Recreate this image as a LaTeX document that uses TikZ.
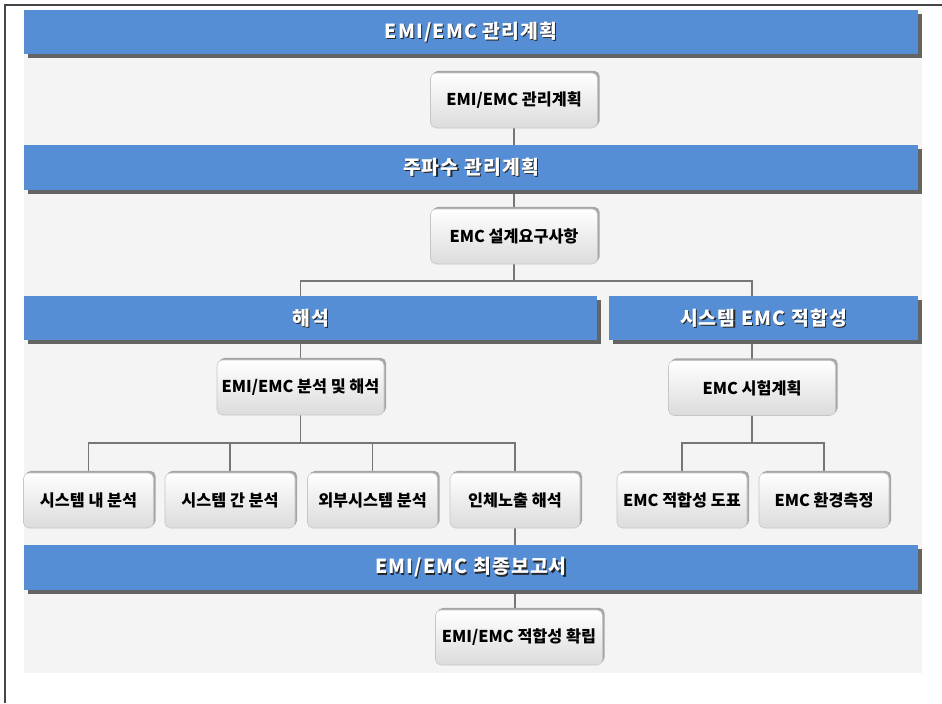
\documentclass[tikz,border=0pt]{standalone}
\usepackage{fontspec}
\setmainfont{Noto Sans CJK KR}
\newfontfamily\bannerfont[LetterSpace=6]{Noto Sans CJK KR}
\usetikzlibrary{shadows}
\definecolor{bannerblue}{RGB}{85,142,213}
\definecolor{bannershadow}{RGB}{100,100,100}
\definecolor{panelgray}{RGB}{244,244,244}
\definecolor{linegray}{RGB}{118,118,118}
\definecolor{framegray}{RGB}{70,70,70}
\pgfdeclarelayer{back}
\pgfdeclarelayer{mid}
\pgfsetlayers{back,mid,main}
\tikzset{
  bannertext/.style={font=\bannerfont\bfseries\fontsize{14.5}{17}\selectfont},
  banner/.style={fill=bannerblue, text=white, bannertext, inner sep=0pt,
    minimum height=33pt,
    drop shadow={shadow xshift=3pt, shadow yshift=-3pt, fill=bannershadow, opacity=1},
    path picture={\node[text=black!85, bannertext] at ([xshift=0.9pt,yshift=-0.9pt]path picture bounding box.center) {#1};}},
  boxbase/.style={rounded corners=4pt, draw=gray!45, top color=white, bottom color=gray!28,
    text=black, font=\bfseries\fontsize{12.2}{14}\selectfont, inner sep=0pt,
    minimum height=41.25pt,
    drop shadow={shadow xshift=1.6pt, shadow yshift=1.6pt, fill=gray!70, opacity=1}},
  bigbox/.style={boxbase, minimum width=125.25pt},
  smallbox/.style={boxbase, minimum width=97.5pt},
  conn/.style={draw=linegray, line width=1.4pt}
}
\begin{document}
\begin{tikzpicture}[x=0.75pt,y=-0.75pt]
\useasboundingbox (0,0) rectangle (942,703);
\begin{pgfonlayer}{back}
  \fill[panelgray] (24,10) rectangle (922,673);
  \draw[framegray, line width=0.8pt] (5,703) -- (5,5) -- (942,5);
\end{pgfonlayer}

% banners
\node[banner={EMI/EMC 관리계획}, minimum width=670.5pt] (b1) at (471,32) {EMI/EMC 관리계획};
\node[banner={주파수 관리계획}, minimum width=670.5pt, minimum height=33.75pt] (b2) at (471,167.5) {주파수 관리계획};
\node[banner={해석}, minimum width=429.75pt] (b3a) at (310.5,318) {해석};
\node[banner={시스템 EMC 적합성}, minimum width=231.75pt] (b3b) at (763.5,318) {시스템 EMC 적합성};
\node[banner={EMI/EMC 최종보고서}, minimum width=670.5pt, minimum height=33.75pt] (b4) at (471,567.5) {EMI/EMC 최종보고서};

% boxes
\node[bigbox] (n1) at (514,100.5) {EMI/EMC 관리계획};
\node[bigbox] (n2) at (514,236.5) {EMC 설계요구사항};
\node[bigbox] (n3) at (300.5,387.5) {EMI/EMC 분석 및 해석};
\node[bigbox] (n4) at (752,388) {EMC 시험계획};
\node[smallbox] (l1) at (88.5,500.5) {시스템 내 분석};
\node[smallbox] (l2) at (230,500.5) {시스템 간 분석};
\node[smallbox] (l3) at (372.5,500.5) {외부시스템 분석};
\node[smallbox] (l4) at (515,500.5) {인체노출 해석};
\node[smallbox] (r1) at (682,500.5) {EMC 적합성 도표};
\node[smallbox] (r2) at (824,500.5) {EMC 환경측정};
\node[bigbox] (n5) at (519,637.5) {EMI/EMC 적합성 확립};

% connectors
\begin{pgfonlayer}{mid}
  \draw[conn] (n1.south) -- (n2.north);
  \draw[conn] (n2.south) -- ++(0,17) -| (n3.north);
  \draw[conn] (n2.south) -- ++(0,17) -| (n4.north);
  \draw[conn] (n3.south) -- ++(0,28) -| (l1.north);
  \draw[conn] (n3.south) -- ++(0,28) -| (l2.north);
  \draw[conn] (n3.south) -- ++(0,28) -| (l3.north);
  \draw[conn] (n3.south) -- ++(0,28) -| (l4.north);
  \draw[conn] (n4.south) -- ++(0,27) -| (r1.north);
  \draw[conn] (n4.south) -- ++(0,27) -| (r2.north);
  \draw[conn] (l4.south) -- (l4.south |- n5.north);
\end{pgfonlayer}
\end{tikzpicture}
\end{document}
